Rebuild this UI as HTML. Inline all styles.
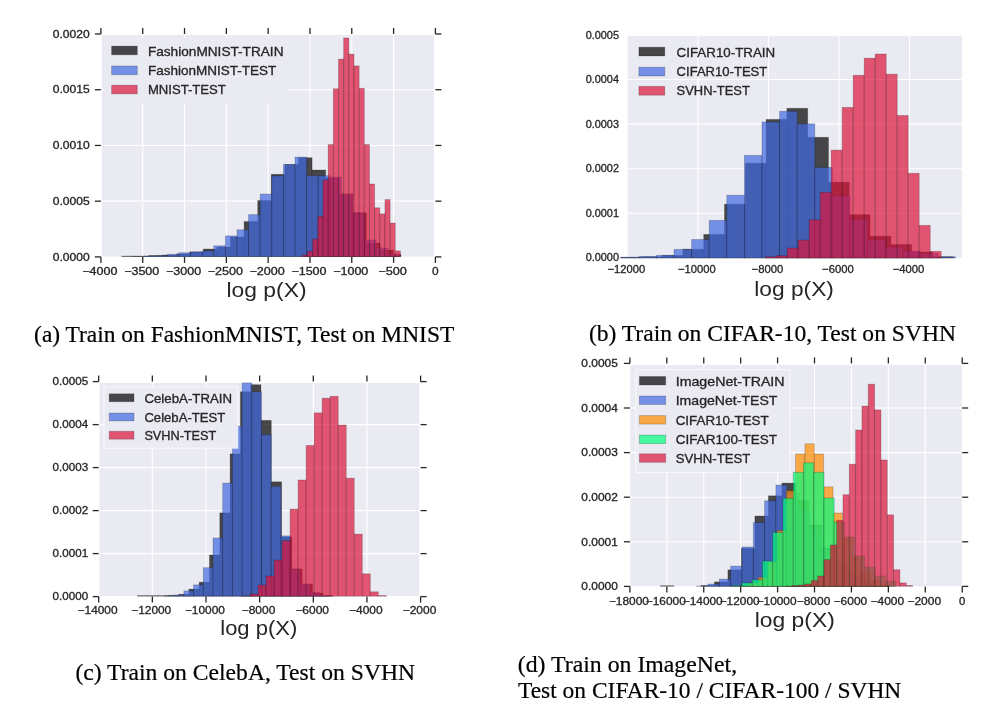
<!DOCTYPE html>
<html><head><meta charset="utf-8"><style>
html,body{margin:0;padding:0;background:#fff;}
body{width:1000px;height:710px;overflow:hidden;}
svg{display:block;font-family:"Liberation Sans", sans-serif;filter:blur(0.35px);}
.t{stroke:#262626;stroke-width:0.3px;}
.s{font-family:"Liberation Serif", serif;}
</style></head><body>
<svg width="1000" height="710" viewBox="0 0 1000 710">
<rect width="1000" height="710" fill="#fff"/>
<rect x="101.70" y="34.90" width="332.30" height="221.70" fill="#EAEAF2"/>
<line x1="142.71" y1="34.90" x2="142.71" y2="256.60" stroke="#fff" stroke-width="1.1"/>
<line x1="184.53" y1="34.90" x2="184.53" y2="256.60" stroke="#fff" stroke-width="1.1"/>
<line x1="226.34" y1="34.90" x2="226.34" y2="256.60" stroke="#fff" stroke-width="1.1"/>
<line x1="268.15" y1="34.90" x2="268.15" y2="256.60" stroke="#fff" stroke-width="1.1"/>
<line x1="309.96" y1="34.90" x2="309.96" y2="256.60" stroke="#fff" stroke-width="1.1"/>
<line x1="351.77" y1="34.90" x2="351.77" y2="256.60" stroke="#fff" stroke-width="1.1"/>
<line x1="393.59" y1="34.90" x2="393.59" y2="256.60" stroke="#fff" stroke-width="1.1"/>
<line x1="101.70" y1="201.17" x2="434.00" y2="201.17" stroke="#fff" stroke-width="1.1"/>
<line x1="101.70" y1="145.45" x2="434.00" y2="145.45" stroke="#fff" stroke-width="1.1"/>
<line x1="101.70" y1="89.72" x2="434.00" y2="89.72" stroke="#fff" stroke-width="1.1"/>
<g fill="#000000" fill-opacity="0.7" stroke="#000" stroke-opacity="0.22" stroke-width="0.9">
<rect x="121.70" y="256.00" width="13.60" height="0.60"/>
<rect x="135.30" y="256.00" width="13.60" height="0.60"/>
<rect x="148.90" y="255.50" width="13.60" height="1.10"/>
<rect x="162.50" y="255.00" width="13.60" height="1.60"/>
<rect x="176.10" y="253.90" width="13.60" height="2.70"/>
<rect x="189.70" y="251.90" width="13.60" height="4.70"/>
<rect x="203.30" y="249.00" width="13.60" height="7.60"/>
<rect x="216.90" y="247.00" width="13.60" height="9.60"/>
<rect x="230.50" y="237.00" width="13.60" height="19.60"/>
<rect x="244.10" y="221.50" width="13.60" height="35.10"/>
<rect x="257.70" y="200.50" width="13.60" height="56.10"/>
<rect x="271.30" y="174.30" width="13.60" height="82.30"/>
<rect x="284.90" y="164.50" width="13.60" height="92.10"/>
<rect x="298.50" y="157.70" width="13.60" height="98.90"/>
<rect x="312.10" y="170.00" width="13.60" height="86.60"/>
<rect x="325.70" y="178.00" width="13.60" height="78.60"/>
<rect x="339.30" y="194.00" width="13.60" height="62.60"/>
<rect x="352.90" y="213.00" width="13.60" height="43.60"/>
<rect x="366.50" y="243.00" width="13.60" height="13.60"/>
<rect x="380.10" y="250.00" width="13.60" height="6.60"/>
<rect x="393.70" y="254.50" width="7.30" height="2.10"/>
</g>
<g fill="#4169E1" fill-opacity="0.7" stroke="#000" stroke-opacity="0.22" stroke-width="0.9">
<rect x="132.60" y="256.50" width="11.60" height="0.10"/>
<rect x="144.20" y="256.00" width="11.60" height="0.60"/>
<rect x="155.80" y="255.60" width="11.60" height="1.00"/>
<rect x="167.40" y="254.30" width="11.60" height="2.30"/>
<rect x="179.00" y="252.70" width="11.60" height="3.90"/>
<rect x="190.60" y="251.90" width="11.60" height="4.70"/>
<rect x="202.20" y="251.00" width="11.60" height="5.60"/>
<rect x="213.80" y="245.80" width="11.60" height="10.80"/>
<rect x="225.40" y="235.90" width="11.60" height="20.70"/>
<rect x="237.00" y="229.80" width="11.60" height="26.80"/>
<rect x="248.60" y="214.60" width="11.60" height="42.00"/>
<rect x="260.20" y="194.10" width="11.60" height="62.50"/>
<rect x="271.80" y="175.90" width="11.60" height="80.70"/>
<rect x="283.40" y="164.40" width="11.60" height="92.20"/>
<rect x="295.00" y="157.10" width="11.60" height="99.50"/>
<rect x="306.60" y="175.70" width="11.60" height="80.90"/>
<rect x="318.20" y="175.70" width="11.60" height="80.90"/>
<rect x="329.80" y="177.00" width="11.60" height="79.60"/>
<rect x="341.40" y="194.00" width="11.60" height="62.60"/>
<rect x="353.00" y="212.50" width="11.60" height="44.10"/>
<rect x="364.60" y="240.00" width="11.60" height="16.60"/>
<rect x="376.20" y="248.00" width="11.60" height="8.60"/>
<rect x="387.80" y="254.00" width="11.60" height="2.60"/>
</g>
<g fill="#DC143C" fill-opacity="0.7" stroke="#000" stroke-opacity="0.22" stroke-width="0.9">
<rect x="302.38" y="255.00" width="5.16" height="1.60"/>
<rect x="307.54" y="251.10" width="5.16" height="5.50"/>
<rect x="312.70" y="239.10" width="5.16" height="17.50"/>
<rect x="317.86" y="216.30" width="5.16" height="40.30"/>
<rect x="323.02" y="180.10" width="5.16" height="76.50"/>
<rect x="328.18" y="144.60" width="5.16" height="112.00"/>
<rect x="333.34" y="88.80" width="5.16" height="167.80"/>
<rect x="338.50" y="59.10" width="5.16" height="197.50"/>
<rect x="343.66" y="38.00" width="5.16" height="218.60"/>
<rect x="348.82" y="54.10" width="5.16" height="202.50"/>
<rect x="353.98" y="65.90" width="5.16" height="190.70"/>
<rect x="359.14" y="88.30" width="5.16" height="168.30"/>
<rect x="364.30" y="144.60" width="5.16" height="112.00"/>
<rect x="369.46" y="184.00" width="5.16" height="72.60"/>
<rect x="374.62" y="207.80" width="5.16" height="48.80"/>
<rect x="379.78" y="213.90" width="5.16" height="42.70"/>
<rect x="384.94" y="199.60" width="5.16" height="57.00"/>
<rect x="390.10" y="223.00" width="5.16" height="33.60"/>
<rect x="395.26" y="250.90" width="5.16" height="5.70"/>
</g>
<rect x="104" y="38" width="184" height="65" fill="#EAEAF2" stroke="none" stroke-width="1" stroke-opacity="1"/>
<rect x="111.6" y="46.10" width="25.70" height="8.7" fill="#000000" fill-opacity="0.7" stroke="#000" stroke-opacity="0.22" stroke-width="0.9"/>
<text x="147.9" y="55.60" font-size="12.4" textLength="135.6" lengthAdjust="spacingAndGlyphs" fill="#262626" class="t">FashionMNIST-TRAIN</text>
<rect x="111.6" y="66.00" width="25.70" height="8.7" fill="#4169E1" fill-opacity="0.7" stroke="#000" stroke-opacity="0.22" stroke-width="0.9"/>
<text x="147.9" y="74.70" font-size="12.4" textLength="128.5" lengthAdjust="spacingAndGlyphs" fill="#262626" class="t">FashionMNIST-TEST</text>
<rect x="111.6" y="85.20" width="25.70" height="8.7" fill="#DC143C" fill-opacity="0.7" stroke="#000" stroke-opacity="0.22" stroke-width="0.9"/>
<text x="147.9" y="93.90" font-size="12.4" textLength="77.9" lengthAdjust="spacingAndGlyphs" fill="#262626" class="t">MNIST-TEST</text>
<g stroke="#262626" stroke-width="1.3">
<line x1="100.90" y1="256.90" x2="100.90" y2="262.90"/>
<line x1="100.90" y1="34.00" x2="100.90" y2="28.00"/>
<line x1="142.71" y1="256.90" x2="142.71" y2="262.90"/>
<line x1="142.71" y1="34.00" x2="142.71" y2="28.00"/>
<line x1="184.53" y1="256.90" x2="184.53" y2="262.90"/>
<line x1="184.53" y1="34.00" x2="184.53" y2="28.00"/>
<line x1="226.34" y1="256.90" x2="226.34" y2="262.90"/>
<line x1="226.34" y1="34.00" x2="226.34" y2="28.00"/>
<line x1="268.15" y1="256.90" x2="268.15" y2="262.90"/>
<line x1="268.15" y1="34.00" x2="268.15" y2="28.00"/>
<line x1="309.96" y1="256.90" x2="309.96" y2="262.90"/>
<line x1="309.96" y1="34.00" x2="309.96" y2="28.00"/>
<line x1="351.77" y1="256.90" x2="351.77" y2="262.90"/>
<line x1="351.77" y1="34.00" x2="351.77" y2="28.00"/>
<line x1="393.59" y1="256.90" x2="393.59" y2="262.90"/>
<line x1="393.59" y1="34.00" x2="393.59" y2="28.00"/>
<line x1="435.40" y1="256.90" x2="435.40" y2="262.90"/>
<line x1="435.40" y1="34.00" x2="435.40" y2="28.00"/>
<line x1="94.90" y1="256.90" x2="100.90" y2="256.90"/>
<line x1="435.40" y1="256.90" x2="441.40" y2="256.90"/>
<line x1="94.90" y1="201.17" x2="100.90" y2="201.17"/>
<line x1="435.40" y1="201.17" x2="441.40" y2="201.17"/>
<line x1="94.90" y1="145.45" x2="100.90" y2="145.45"/>
<line x1="435.40" y1="145.45" x2="441.40" y2="145.45"/>
<line x1="94.90" y1="89.72" x2="100.90" y2="89.72"/>
<line x1="435.40" y1="89.72" x2="441.40" y2="89.72"/>
<line x1="94.90" y1="34.00" x2="100.90" y2="34.00"/>
<line x1="435.40" y1="34.00" x2="441.40" y2="34.00"/>
</g>
<text x="99.90" y="274.6" font-size="10.6" text-anchor="middle" textLength="35.17" lengthAdjust="spacingAndGlyphs" fill="#262626" class="t">−4000</text>
<text x="141.71" y="274.6" font-size="10.6" text-anchor="middle" textLength="35.17" lengthAdjust="spacingAndGlyphs" fill="#262626" class="t">−3500</text>
<text x="183.53" y="274.6" font-size="10.6" text-anchor="middle" textLength="35.17" lengthAdjust="spacingAndGlyphs" fill="#262626" class="t">−3000</text>
<text x="225.34" y="274.6" font-size="10.6" text-anchor="middle" textLength="35.17" lengthAdjust="spacingAndGlyphs" fill="#262626" class="t">−2500</text>
<text x="267.15" y="274.6" font-size="10.6" text-anchor="middle" textLength="35.17" lengthAdjust="spacingAndGlyphs" fill="#262626" class="t">−2000</text>
<text x="308.96" y="274.6" font-size="10.6" text-anchor="middle" textLength="35.17" lengthAdjust="spacingAndGlyphs" fill="#262626" class="t">−1500</text>
<text x="350.77" y="274.6" font-size="10.6" text-anchor="middle" textLength="35.17" lengthAdjust="spacingAndGlyphs" fill="#262626" class="t">−1000</text>
<text x="392.59" y="274.6" font-size="10.6" text-anchor="middle" textLength="28.56" lengthAdjust="spacingAndGlyphs" fill="#262626" class="t">−500</text>
<text x="435.40" y="274.6" font-size="10.6" text-anchor="middle" textLength="6.61" lengthAdjust="spacingAndGlyphs" fill="#262626" class="t">0</text>
<text x="89.7" y="260.50" font-size="10.6" text-anchor="end" textLength="36.9" lengthAdjust="spacingAndGlyphs" fill="#262626" class="t">0.0000</text>
<text x="89.7" y="204.77" font-size="10.6" text-anchor="end" textLength="36.9" lengthAdjust="spacingAndGlyphs" fill="#262626" class="t">0.0005</text>
<text x="89.7" y="149.05" font-size="10.6" text-anchor="end" textLength="36.9" lengthAdjust="spacingAndGlyphs" fill="#262626" class="t">0.0010</text>
<text x="89.7" y="93.32" font-size="10.6" text-anchor="end" textLength="36.9" lengthAdjust="spacingAndGlyphs" fill="#262626" class="t">0.0015</text>
<text x="89.7" y="37.60" font-size="10.6" text-anchor="end" textLength="36.9" lengthAdjust="spacingAndGlyphs" fill="#262626" class="t">0.0020</text>
<text x="266.5" y="296.5" font-size="20.2" text-anchor="middle" textLength="80" lengthAdjust="spacingAndGlyphs" fill="#262626">log p(X)</text>
<rect x="627.60" y="35.80" width="334.30" height="222.20" fill="#EAEAF2"/>
<line x1="697.86" y1="35.80" x2="697.86" y2="258.00" stroke="#fff" stroke-width="1.1"/>
<line x1="768.42" y1="35.80" x2="768.42" y2="258.00" stroke="#fff" stroke-width="1.1"/>
<line x1="838.98" y1="35.80" x2="838.98" y2="258.00" stroke="#fff" stroke-width="1.1"/>
<line x1="909.54" y1="35.80" x2="909.54" y2="258.00" stroke="#fff" stroke-width="1.1"/>
<line x1="627.60" y1="213.24" x2="961.90" y2="213.24" stroke="#fff" stroke-width="1.1"/>
<line x1="627.60" y1="168.68" x2="961.90" y2="168.68" stroke="#fff" stroke-width="1.1"/>
<line x1="627.60" y1="124.12" x2="961.90" y2="124.12" stroke="#fff" stroke-width="1.1"/>
<line x1="627.60" y1="79.56" x2="961.90" y2="79.56" stroke="#fff" stroke-width="1.1"/>
<g fill="#000000" fill-opacity="0.7" stroke="#000" stroke-opacity="0.22" stroke-width="0.9">
<rect x="620.50" y="257.30" width="20.80" height="0.70"/>
<rect x="641.30" y="256.80" width="20.80" height="1.20"/>
<rect x="662.10" y="255.40" width="20.80" height="2.60"/>
<rect x="682.90" y="249.20" width="20.80" height="8.80"/>
<rect x="703.70" y="234.40" width="20.80" height="23.60"/>
<rect x="724.50" y="204.20" width="20.80" height="53.80"/>
<rect x="745.30" y="163.20" width="20.80" height="94.80"/>
<rect x="766.10" y="119.40" width="20.80" height="138.60"/>
<rect x="786.90" y="108.30" width="20.80" height="149.70"/>
<rect x="807.70" y="137.30" width="20.80" height="120.70"/>
<rect x="828.50" y="182.20" width="20.80" height="75.80"/>
<rect x="849.30" y="214.60" width="20.80" height="43.40"/>
<rect x="870.10" y="236.20" width="20.80" height="21.80"/>
<rect x="890.90" y="244.50" width="20.80" height="13.50"/>
<rect x="911.70" y="252.00" width="20.80" height="6.00"/>
<rect x="932.50" y="256.70" width="20.80" height="1.30"/>
</g>
<g fill="#4169E1" fill-opacity="0.7" stroke="#000" stroke-opacity="0.22" stroke-width="0.9">
<rect x="621.20" y="257.30" width="17.60" height="0.70"/>
<rect x="638.80" y="256.50" width="17.60" height="1.50"/>
<rect x="656.40" y="255.30" width="17.60" height="2.70"/>
<rect x="674.00" y="249.40" width="17.60" height="8.60"/>
<rect x="691.60" y="239.50" width="17.60" height="18.50"/>
<rect x="709.20" y="220.40" width="17.60" height="37.60"/>
<rect x="726.80" y="195.20" width="17.60" height="62.80"/>
<rect x="744.40" y="155.40" width="17.60" height="102.60"/>
<rect x="762.00" y="122.00" width="17.60" height="136.00"/>
<rect x="779.60" y="111.30" width="17.60" height="146.70"/>
<rect x="797.20" y="123.90" width="17.60" height="134.10"/>
<rect x="814.80" y="167.50" width="17.60" height="90.50"/>
<rect x="832.40" y="195.90" width="17.60" height="62.10"/>
<rect x="850.00" y="219.70" width="17.60" height="38.30"/>
<rect x="867.60" y="240.00" width="17.60" height="18.00"/>
<rect x="885.20" y="247.20" width="17.60" height="10.80"/>
<rect x="902.80" y="251.00" width="17.60" height="7.00"/>
<rect x="920.40" y="253.50" width="17.60" height="4.50"/>
<rect x="938.00" y="256.90" width="17.60" height="1.10"/>
</g>
<g fill="#DC143C" fill-opacity="0.7" stroke="#000" stroke-opacity="0.22" stroke-width="0.9">
<rect x="765.20" y="256.80" width="11.00" height="1.20"/>
<rect x="776.20" y="255.70" width="11.00" height="2.30"/>
<rect x="787.20" y="248.10" width="11.00" height="9.90"/>
<rect x="798.20" y="240.10" width="11.00" height="17.90"/>
<rect x="809.20" y="219.80" width="11.00" height="38.20"/>
<rect x="820.20" y="192.30" width="11.00" height="65.70"/>
<rect x="831.20" y="150.10" width="11.00" height="107.90"/>
<rect x="842.20" y="107.40" width="11.00" height="150.60"/>
<rect x="853.20" y="75.30" width="11.00" height="182.70"/>
<rect x="864.20" y="58.20" width="11.00" height="199.80"/>
<rect x="875.20" y="54.00" width="11.00" height="204.00"/>
<rect x="886.20" y="74.20" width="11.00" height="183.80"/>
<rect x="897.20" y="115.50" width="11.00" height="142.50"/>
<rect x="908.20" y="173.30" width="11.00" height="84.70"/>
<rect x="919.20" y="225.40" width="11.00" height="32.60"/>
<rect x="930.20" y="251.30" width="11.00" height="6.70"/>
</g>
<rect x="638.9" y="47.20" width="25.90" height="8.8" fill="#000000" fill-opacity="0.7" stroke="#000" stroke-opacity="0.22" stroke-width="0.9"/>
<text x="676.6" y="57.10" font-size="12.2" textLength="98.6" lengthAdjust="spacingAndGlyphs" fill="#262626" class="t">CIFAR10-TRAIN</text>
<rect x="638.9" y="67.20" width="25.90" height="8.8" fill="#4169E1" fill-opacity="0.7" stroke="#000" stroke-opacity="0.22" stroke-width="0.9"/>
<text x="676.6" y="75.80" font-size="12.2" textLength="90.7" lengthAdjust="spacingAndGlyphs" fill="#262626" class="t">CIFAR10-TEST</text>
<rect x="638.9" y="86.40" width="25.90" height="8.8" fill="#DC143C" fill-opacity="0.7" stroke="#000" stroke-opacity="0.22" stroke-width="0.9"/>
<text x="676.6" y="95.00" font-size="12.2" textLength="73.2" lengthAdjust="spacingAndGlyphs" fill="#262626" class="t">SVHN-TEST</text>
<text x="626.30" y="273.2" font-size="10.9" text-anchor="middle" textLength="37.69" lengthAdjust="spacingAndGlyphs" fill="#262626" class="t">−12000</text>
<text x="696.86" y="273.2" font-size="10.9" text-anchor="middle" textLength="37.69" lengthAdjust="spacingAndGlyphs" fill="#262626" class="t">−10000</text>
<text x="767.42" y="273.2" font-size="10.9" text-anchor="middle" textLength="31.72" lengthAdjust="spacingAndGlyphs" fill="#262626" class="t">−8000</text>
<text x="837.98" y="273.2" font-size="10.9" text-anchor="middle" textLength="31.72" lengthAdjust="spacingAndGlyphs" fill="#262626" class="t">−6000</text>
<text x="908.54" y="273.2" font-size="10.9" text-anchor="middle" textLength="31.72" lengthAdjust="spacingAndGlyphs" fill="#262626" class="t">−4000</text>
<text x="619.0" y="261.40" font-size="10.6" text-anchor="end" textLength="33.3" lengthAdjust="spacingAndGlyphs" fill="#262626" class="t">0.0000</text>
<text x="619.0" y="216.84" font-size="10.6" text-anchor="end" textLength="33.3" lengthAdjust="spacingAndGlyphs" fill="#262626" class="t">0.0001</text>
<text x="619.0" y="172.28" font-size="10.6" text-anchor="end" textLength="33.3" lengthAdjust="spacingAndGlyphs" fill="#262626" class="t">0.0002</text>
<text x="619.0" y="127.72" font-size="10.6" text-anchor="end" textLength="33.3" lengthAdjust="spacingAndGlyphs" fill="#262626" class="t">0.0003</text>
<text x="619.0" y="83.16" font-size="10.6" text-anchor="end" textLength="33.3" lengthAdjust="spacingAndGlyphs" fill="#262626" class="t">0.0004</text>
<text x="619.0" y="38.60" font-size="10.6" text-anchor="end" textLength="33.3" lengthAdjust="spacingAndGlyphs" fill="#262626" class="t">0.0005</text>
<text x="794.1" y="295.5" font-size="20.2" text-anchor="middle" textLength="79.6" lengthAdjust="spacingAndGlyphs" fill="#262626">log p(X)</text>
<rect x="99.50" y="383.00" width="319.90" height="213.20" fill="#EAEAF2"/>
<line x1="152.35" y1="383.00" x2="152.35" y2="596.20" stroke="#fff" stroke-width="1.1"/>
<line x1="206.00" y1="383.00" x2="206.00" y2="596.20" stroke="#fff" stroke-width="1.1"/>
<line x1="259.65" y1="383.00" x2="259.65" y2="596.20" stroke="#fff" stroke-width="1.1"/>
<line x1="313.30" y1="383.00" x2="313.30" y2="596.20" stroke="#fff" stroke-width="1.1"/>
<line x1="366.95" y1="383.00" x2="366.95" y2="596.20" stroke="#fff" stroke-width="1.1"/>
<line x1="99.50" y1="553.60" x2="419.40" y2="553.60" stroke="#fff" stroke-width="1.1"/>
<line x1="99.50" y1="510.60" x2="419.40" y2="510.60" stroke="#fff" stroke-width="1.1"/>
<line x1="99.50" y1="467.60" x2="419.40" y2="467.60" stroke="#fff" stroke-width="1.1"/>
<line x1="99.50" y1="424.60" x2="419.40" y2="424.60" stroke="#fff" stroke-width="1.1"/>
<g fill="#000000" fill-opacity="0.7" stroke="#000" stroke-opacity="0.22" stroke-width="0.9">
<rect x="137.40" y="595.60" width="10.30" height="0.60"/>
<rect x="147.70" y="595.60" width="10.30" height="0.60"/>
<rect x="158.00" y="595.60" width="10.30" height="0.60"/>
<rect x="168.30" y="595.30" width="10.30" height="0.90"/>
<rect x="178.60" y="594.30" width="10.30" height="1.90"/>
<rect x="188.90" y="589.10" width="10.30" height="7.10"/>
<rect x="199.20" y="582.20" width="10.30" height="14.00"/>
<rect x="209.50" y="555.00" width="10.30" height="41.20"/>
<rect x="219.80" y="512.90" width="10.30" height="83.30"/>
<rect x="230.10" y="453.90" width="10.30" height="142.30"/>
<rect x="240.40" y="391.80" width="10.30" height="204.40"/>
<rect x="250.70" y="384.70" width="10.30" height="211.50"/>
<rect x="261.00" y="420.40" width="10.30" height="175.80"/>
<rect x="271.30" y="481.80" width="10.30" height="114.40"/>
<rect x="281.60" y="537.00" width="10.30" height="59.20"/>
<rect x="291.90" y="569.00" width="10.30" height="27.20"/>
<rect x="302.20" y="584.00" width="10.30" height="12.20"/>
<rect x="312.50" y="593.00" width="10.30" height="3.20"/>
<rect x="322.80" y="595.50" width="10.30" height="0.70"/>
</g>
<g fill="#4169E1" fill-opacity="0.7" stroke="#000" stroke-opacity="0.22" stroke-width="0.9">
<rect x="164.50" y="595.80" width="9.70" height="0.40"/>
<rect x="174.20" y="595.00" width="9.70" height="1.20"/>
<rect x="183.90" y="590.90" width="9.70" height="5.30"/>
<rect x="193.60" y="584.90" width="9.70" height="11.30"/>
<rect x="203.30" y="567.70" width="9.70" height="28.50"/>
<rect x="213.00" y="538.00" width="9.70" height="58.20"/>
<rect x="222.70" y="483.10" width="9.70" height="113.10"/>
<rect x="232.40" y="426.00" width="9.70" height="170.20"/>
<rect x="242.10" y="382.90" width="9.70" height="213.30"/>
<rect x="251.80" y="391.80" width="9.70" height="204.40"/>
<rect x="261.50" y="434.70" width="9.70" height="161.50"/>
<rect x="271.20" y="486.30" width="9.70" height="109.90"/>
<rect x="280.90" y="535.90" width="9.70" height="60.30"/>
<rect x="290.60" y="569.00" width="9.70" height="27.20"/>
<rect x="300.30" y="584.00" width="9.70" height="12.20"/>
<rect x="310.00" y="592.50" width="9.70" height="3.70"/>
<rect x="319.70" y="595.50" width="9.70" height="0.70"/>
</g>
<g fill="#DC143C" fill-opacity="0.7" stroke="#000" stroke-opacity="0.22" stroke-width="0.9">
<rect x="241.96" y="596.00" width="8.02" height="0.20"/>
<rect x="249.98" y="594.00" width="8.02" height="2.20"/>
<rect x="258.00" y="585.00" width="8.02" height="11.20"/>
<rect x="266.02" y="576.00" width="8.02" height="20.20"/>
<rect x="274.04" y="560.10" width="8.02" height="36.10"/>
<rect x="282.06" y="540.70" width="8.02" height="55.50"/>
<rect x="290.08" y="509.10" width="8.02" height="87.10"/>
<rect x="298.10" y="480.00" width="8.02" height="116.20"/>
<rect x="306.12" y="445.50" width="8.02" height="150.70"/>
<rect x="314.14" y="412.90" width="8.02" height="183.30"/>
<rect x="322.16" y="398.20" width="8.02" height="198.00"/>
<rect x="330.18" y="396.30" width="8.02" height="199.90"/>
<rect x="338.20" y="425.00" width="8.02" height="171.20"/>
<rect x="346.22" y="478.20" width="8.02" height="118.00"/>
<rect x="354.24" y="534.10" width="8.02" height="62.10"/>
<rect x="362.26" y="573.80" width="8.02" height="22.40"/>
<rect x="370.28" y="591.80" width="8.02" height="4.40"/>
<rect x="378.30" y="595.50" width="8.02" height="0.70"/>
</g>
<rect x="104" y="386.8" width="133.8" height="61.39999999999998" fill="#EAEAF2" stroke="#ffffff" stroke-width="1.0" stroke-opacity="0.7"/>
<rect x="109.2" y="393.80" width="24.80" height="7.9" fill="#000000" fill-opacity="0.7" stroke="#000" stroke-opacity="0.22" stroke-width="0.9"/>
<text x="144.4" y="402.80" font-size="11.9" textLength="87.7" lengthAdjust="spacingAndGlyphs" fill="#262626" class="t">CelebA-TRAIN</text>
<rect x="109.2" y="413.00" width="24.80" height="7.9" fill="#4169E1" fill-opacity="0.7" stroke="#000" stroke-opacity="0.22" stroke-width="0.9"/>
<text x="144.4" y="421.90" font-size="11.9" textLength="80.9" lengthAdjust="spacingAndGlyphs" fill="#262626" class="t">CelebA-TEST</text>
<rect x="109.2" y="431.30" width="24.80" height="7.9" fill="#DC143C" fill-opacity="0.7" stroke="#000" stroke-opacity="0.22" stroke-width="0.9"/>
<text x="144.4" y="440.30" font-size="11.9" textLength="71.9" lengthAdjust="spacingAndGlyphs" fill="#262626" class="t">SVHN-TEST</text>
<g stroke="#262626" stroke-width="1.3">
<line x1="98.70" y1="596.60" x2="98.70" y2="602.60"/>
<line x1="98.70" y1="381.60" x2="98.70" y2="375.60"/>
<line x1="152.35" y1="596.60" x2="152.35" y2="602.60"/>
<line x1="152.35" y1="381.60" x2="152.35" y2="375.60"/>
<line x1="206.00" y1="596.60" x2="206.00" y2="602.60"/>
<line x1="206.00" y1="381.60" x2="206.00" y2="375.60"/>
<line x1="259.65" y1="596.60" x2="259.65" y2="602.60"/>
<line x1="259.65" y1="381.60" x2="259.65" y2="375.60"/>
<line x1="313.30" y1="596.60" x2="313.30" y2="602.60"/>
<line x1="313.30" y1="381.60" x2="313.30" y2="375.60"/>
<line x1="366.95" y1="596.60" x2="366.95" y2="602.60"/>
<line x1="366.95" y1="381.60" x2="366.95" y2="375.60"/>
<line x1="420.60" y1="596.60" x2="420.60" y2="602.60"/>
<line x1="420.60" y1="381.60" x2="420.60" y2="375.60"/>
<line x1="92.70" y1="596.60" x2="98.70" y2="596.60"/>
<line x1="420.60" y1="596.60" x2="426.60" y2="596.60"/>
<line x1="92.70" y1="553.60" x2="98.70" y2="553.60"/>
<line x1="420.60" y1="553.60" x2="426.60" y2="553.60"/>
<line x1="92.70" y1="510.60" x2="98.70" y2="510.60"/>
<line x1="420.60" y1="510.60" x2="426.60" y2="510.60"/>
<line x1="92.70" y1="467.60" x2="98.70" y2="467.60"/>
<line x1="420.60" y1="467.60" x2="426.60" y2="467.60"/>
<line x1="92.70" y1="424.60" x2="98.70" y2="424.60"/>
<line x1="420.60" y1="424.60" x2="426.60" y2="424.60"/>
<line x1="92.70" y1="381.60" x2="98.70" y2="381.60"/>
<line x1="420.60" y1="381.60" x2="426.60" y2="381.60"/>
</g>
<text x="97.60" y="613.9" font-size="10.7" text-anchor="middle" textLength="39.98" lengthAdjust="spacingAndGlyphs" fill="#262626" class="t">−14000</text>
<text x="151.25" y="613.9" font-size="10.7" text-anchor="middle" textLength="39.98" lengthAdjust="spacingAndGlyphs" fill="#262626" class="t">−12000</text>
<text x="204.90" y="613.9" font-size="10.7" text-anchor="middle" textLength="39.98" lengthAdjust="spacingAndGlyphs" fill="#262626" class="t">−10000</text>
<text x="258.55" y="613.9" font-size="10.7" text-anchor="middle" textLength="33.65" lengthAdjust="spacingAndGlyphs" fill="#262626" class="t">−8000</text>
<text x="312.20" y="613.9" font-size="10.7" text-anchor="middle" textLength="33.65" lengthAdjust="spacingAndGlyphs" fill="#262626" class="t">−6000</text>
<text x="365.85" y="613.9" font-size="10.7" text-anchor="middle" textLength="33.65" lengthAdjust="spacingAndGlyphs" fill="#262626" class="t">−4000</text>
<text x="419.50" y="613.9" font-size="10.7" text-anchor="middle" textLength="33.65" lengthAdjust="spacingAndGlyphs" fill="#262626" class="t">−2000</text>
<text x="88.1" y="600.30" font-size="10.6" text-anchor="end" textLength="35.5" lengthAdjust="spacingAndGlyphs" fill="#262626" class="t">0.0000</text>
<text x="88.1" y="557.30" font-size="10.6" text-anchor="end" textLength="35.5" lengthAdjust="spacingAndGlyphs" fill="#262626" class="t">0.0001</text>
<text x="88.1" y="514.30" font-size="10.6" text-anchor="end" textLength="35.5" lengthAdjust="spacingAndGlyphs" fill="#262626" class="t">0.0002</text>
<text x="88.1" y="471.30" font-size="10.6" text-anchor="end" textLength="35.5" lengthAdjust="spacingAndGlyphs" fill="#262626" class="t">0.0003</text>
<text x="88.1" y="428.30" font-size="10.6" text-anchor="end" textLength="35.5" lengthAdjust="spacingAndGlyphs" fill="#262626" class="t">0.0004</text>
<text x="88.1" y="385.30" font-size="10.6" text-anchor="end" textLength="35.5" lengthAdjust="spacingAndGlyphs" fill="#262626" class="t">0.0005</text>
<text x="258.75" y="634.8" font-size="19.6" text-anchor="middle" textLength="77" lengthAdjust="spacingAndGlyphs" fill="#262626">log p(X)</text>
<rect x="630.30" y="365.00" width="331.50" height="221.30" fill="#EAEAF2"/>
<line x1="666.82" y1="365.00" x2="666.82" y2="586.30" stroke="#fff" stroke-width="1.1"/>
<line x1="703.74" y1="365.00" x2="703.74" y2="586.30" stroke="#fff" stroke-width="1.1"/>
<line x1="740.67" y1="365.00" x2="740.67" y2="586.30" stroke="#fff" stroke-width="1.1"/>
<line x1="777.59" y1="365.00" x2="777.59" y2="586.30" stroke="#fff" stroke-width="1.1"/>
<line x1="814.51" y1="365.00" x2="814.51" y2="586.30" stroke="#fff" stroke-width="1.1"/>
<line x1="851.43" y1="365.00" x2="851.43" y2="586.30" stroke="#fff" stroke-width="1.1"/>
<line x1="888.36" y1="365.00" x2="888.36" y2="586.30" stroke="#fff" stroke-width="1.1"/>
<line x1="925.28" y1="365.00" x2="925.28" y2="586.30" stroke="#fff" stroke-width="1.1"/>
<line x1="630.30" y1="541.80" x2="961.80" y2="541.80" stroke="#fff" stroke-width="1.1"/>
<line x1="630.30" y1="497.20" x2="961.80" y2="497.20" stroke="#fff" stroke-width="1.1"/>
<line x1="630.30" y1="452.60" x2="961.80" y2="452.60" stroke="#fff" stroke-width="1.1"/>
<line x1="630.30" y1="408.00" x2="961.80" y2="408.00" stroke="#fff" stroke-width="1.1"/>
<g fill="#000000" fill-opacity="0.7" stroke="#000" stroke-opacity="0.22" stroke-width="0.9">
<rect x="660.40" y="585.70" width="13.50" height="0.60"/>
<rect x="700.90" y="585.50" width="13.50" height="0.80"/>
<rect x="714.40" y="581.90" width="13.50" height="4.40"/>
<rect x="727.90" y="569.90" width="13.50" height="16.40"/>
<rect x="741.40" y="548.50" width="13.50" height="37.80"/>
<rect x="754.90" y="516.00" width="13.50" height="70.30"/>
<rect x="768.40" y="495.80" width="13.50" height="90.50"/>
<rect x="781.90" y="483.10" width="13.50" height="103.20"/>
<rect x="795.40" y="500.00" width="13.50" height="86.30"/>
<rect x="808.90" y="525.00" width="13.50" height="61.30"/>
<rect x="822.40" y="548.00" width="13.50" height="38.30"/>
<rect x="835.90" y="565.00" width="13.50" height="21.30"/>
<rect x="849.40" y="576.00" width="13.50" height="10.30"/>
<rect x="862.90" y="582.00" width="13.50" height="4.30"/>
<rect x="876.40" y="585.00" width="13.50" height="1.30"/>
</g>
<g fill="#4169E1" fill-opacity="0.7" stroke="#000" stroke-opacity="0.22" stroke-width="0.9">
<rect x="696.80" y="586.00" width="11.30" height="0.30"/>
<rect x="708.10" y="584.00" width="11.30" height="2.30"/>
<rect x="719.40" y="579.10" width="11.30" height="7.20"/>
<rect x="730.70" y="566.10" width="11.30" height="20.20"/>
<rect x="742.00" y="547.00" width="11.30" height="39.30"/>
<rect x="753.30" y="522.50" width="11.30" height="63.80"/>
<rect x="764.60" y="500.80" width="11.30" height="85.50"/>
<rect x="775.90" y="485.00" width="11.30" height="101.30"/>
<rect x="787.20" y="493.00" width="11.30" height="93.30"/>
<rect x="798.50" y="510.00" width="11.30" height="76.30"/>
<rect x="809.80" y="530.00" width="11.30" height="56.30"/>
<rect x="821.10" y="548.00" width="11.30" height="38.30"/>
<rect x="832.40" y="562.00" width="11.30" height="24.30"/>
<rect x="843.70" y="572.00" width="11.30" height="14.30"/>
<rect x="855.00" y="579.00" width="11.30" height="7.30"/>
<rect x="866.30" y="583.00" width="11.30" height="3.30"/>
<rect x="877.60" y="585.50" width="11.30" height="0.80"/>
</g>
<g fill="#FF8C00" fill-opacity="0.7" stroke="#000" stroke-opacity="0.22" stroke-width="0.9">
<rect x="739.50" y="585.50" width="9.35" height="0.80"/>
<rect x="748.85" y="583.00" width="9.35" height="3.30"/>
<rect x="758.20" y="577.30" width="9.35" height="9.00"/>
<rect x="767.55" y="562.00" width="9.35" height="24.30"/>
<rect x="776.90" y="530.50" width="9.35" height="55.80"/>
<rect x="786.25" y="490.70" width="9.35" height="95.60"/>
<rect x="795.60" y="454.00" width="9.35" height="132.30"/>
<rect x="804.95" y="443.80" width="9.35" height="142.50"/>
<rect x="814.30" y="454.00" width="9.35" height="132.30"/>
<rect x="823.65" y="486.90" width="9.35" height="99.40"/>
<rect x="833.00" y="513.00" width="9.35" height="73.30"/>
<rect x="842.35" y="538.00" width="9.35" height="48.30"/>
<rect x="851.70" y="558.00" width="9.35" height="28.30"/>
<rect x="861.05" y="572.00" width="9.35" height="14.30"/>
<rect x="870.40" y="580.00" width="9.35" height="6.30"/>
<rect x="879.75" y="584.00" width="9.35" height="2.30"/>
</g>
<g fill="#00FF7F" fill-opacity="0.7" stroke="#000" stroke-opacity="0.22" stroke-width="0.9">
<rect x="731.80" y="585.50" width="10.24" height="0.80"/>
<rect x="742.04" y="583.00" width="10.24" height="3.30"/>
<rect x="752.28" y="579.80" width="10.24" height="6.50"/>
<rect x="762.52" y="561.00" width="10.24" height="25.30"/>
<rect x="772.76" y="532.50" width="10.24" height="53.80"/>
<rect x="783.00" y="498.30" width="10.24" height="88.00"/>
<rect x="793.24" y="472.30" width="10.24" height="114.00"/>
<rect x="803.48" y="462.80" width="10.24" height="123.50"/>
<rect x="813.72" y="472.30" width="10.24" height="114.00"/>
<rect x="823.96" y="497.90" width="10.24" height="88.40"/>
<rect x="834.20" y="522.00" width="10.24" height="64.30"/>
<rect x="844.44" y="537.00" width="10.24" height="49.30"/>
<rect x="854.68" y="556.00" width="10.24" height="30.30"/>
<rect x="864.92" y="567.00" width="10.24" height="19.30"/>
<rect x="875.16" y="576.00" width="10.24" height="10.30"/>
<rect x="885.40" y="581.00" width="10.24" height="5.30"/>
</g>
<g fill="#DC143C" fill-opacity="0.7" stroke="#000" stroke-opacity="0.22" stroke-width="0.9">
<rect x="786.00" y="586.00" width="6.33" height="0.30"/>
<rect x="792.33" y="585.50" width="6.33" height="0.80"/>
<rect x="798.66" y="585.00" width="6.33" height="1.30"/>
<rect x="804.99" y="584.00" width="6.33" height="2.30"/>
<rect x="811.32" y="580.50" width="6.33" height="5.80"/>
<rect x="817.65" y="576.00" width="6.33" height="10.30"/>
<rect x="823.98" y="559.60" width="6.33" height="26.70"/>
<rect x="830.31" y="545.00" width="6.33" height="41.30"/>
<rect x="836.64" y="520.30" width="6.33" height="66.00"/>
<rect x="842.97" y="494.70" width="6.33" height="91.60"/>
<rect x="849.30" y="464.20" width="6.33" height="122.10"/>
<rect x="855.63" y="430.00" width="6.33" height="156.30"/>
<rect x="861.96" y="406.10" width="6.33" height="180.20"/>
<rect x="868.29" y="384.20" width="6.33" height="202.10"/>
<rect x="874.62" y="409.90" width="6.33" height="176.40"/>
<rect x="880.95" y="460.00" width="6.33" height="126.30"/>
<rect x="887.28" y="514.80" width="6.33" height="71.50"/>
<rect x="893.61" y="569.70" width="6.33" height="16.60"/>
<rect x="899.94" y="582.90" width="6.33" height="3.40"/>
<rect x="906.27" y="585.50" width="6.33" height="0.80"/>
</g>
<rect x="636" y="369.7" width="153.89999999999998" height="102.80000000000001" fill="#EAEAF2" stroke="#ffffff" stroke-width="1.0" stroke-opacity="0.7"/>
<rect x="639.4" y="376.50" width="26.30" height="8.5" fill="#000000" fill-opacity="0.7" stroke="#000" stroke-opacity="0.22" stroke-width="0.9"/>
<text x="675.7" y="385.80" font-size="12.4" textLength="108.9" lengthAdjust="spacingAndGlyphs" fill="#262626" class="t">ImageNet-TRAIN</text>
<rect x="639.4" y="396.00" width="26.30" height="8.5" fill="#4169E1" fill-opacity="0.7" stroke="#000" stroke-opacity="0.22" stroke-width="0.9"/>
<text x="675.7" y="405.30" font-size="12.4" textLength="101.8" lengthAdjust="spacingAndGlyphs" fill="#262626" class="t">ImageNet-TEST</text>
<rect x="639.4" y="415.60" width="26.30" height="8.5" fill="#FF8C00" fill-opacity="0.7" stroke="#000" stroke-opacity="0.22" stroke-width="0.9"/>
<text x="675.7" y="424.60" font-size="12.4" textLength="93.0" lengthAdjust="spacingAndGlyphs" fill="#262626" class="t">CIFAR10-TEST</text>
<rect x="639.4" y="435.10" width="26.30" height="8.5" fill="#00FF7F" fill-opacity="0.7" stroke="#000" stroke-opacity="0.22" stroke-width="0.9"/>
<text x="675.7" y="444.30" font-size="12.4" textLength="101.3" lengthAdjust="spacingAndGlyphs" fill="#262626" class="t">CIFAR100-TEST</text>
<rect x="639.4" y="453.80" width="26.30" height="8.5" fill="#DC143C" fill-opacity="0.7" stroke="#000" stroke-opacity="0.22" stroke-width="0.9"/>
<text x="675.7" y="463.20" font-size="12.4" textLength="74.6" lengthAdjust="spacingAndGlyphs" fill="#262626" class="t">SVHN-TEST</text>
<g stroke="#262626" stroke-width="1.3">
<line x1="629.90" y1="586.40" x2="629.90" y2="592.40"/>
<line x1="629.90" y1="363.40" x2="629.90" y2="357.40"/>
<line x1="666.82" y1="586.40" x2="666.82" y2="592.40"/>
<line x1="666.82" y1="363.40" x2="666.82" y2="357.40"/>
<line x1="703.74" y1="586.40" x2="703.74" y2="592.40"/>
<line x1="703.74" y1="363.40" x2="703.74" y2="357.40"/>
<line x1="740.67" y1="586.40" x2="740.67" y2="592.40"/>
<line x1="740.67" y1="363.40" x2="740.67" y2="357.40"/>
<line x1="777.59" y1="586.40" x2="777.59" y2="592.40"/>
<line x1="777.59" y1="363.40" x2="777.59" y2="357.40"/>
<line x1="814.51" y1="586.40" x2="814.51" y2="592.40"/>
<line x1="814.51" y1="363.40" x2="814.51" y2="357.40"/>
<line x1="851.43" y1="586.40" x2="851.43" y2="592.40"/>
<line x1="851.43" y1="363.40" x2="851.43" y2="357.40"/>
<line x1="888.36" y1="586.40" x2="888.36" y2="592.40"/>
<line x1="888.36" y1="363.40" x2="888.36" y2="357.40"/>
<line x1="925.28" y1="586.40" x2="925.28" y2="592.40"/>
<line x1="925.28" y1="363.40" x2="925.28" y2="357.40"/>
<line x1="962.20" y1="586.40" x2="962.20" y2="592.40"/>
<line x1="962.20" y1="363.40" x2="962.20" y2="357.40"/>
<line x1="623.90" y1="586.40" x2="629.90" y2="586.40"/>
<line x1="962.20" y1="586.40" x2="968.20" y2="586.40"/>
<line x1="623.90" y1="541.80" x2="629.90" y2="541.80"/>
<line x1="962.20" y1="541.80" x2="968.20" y2="541.80"/>
<line x1="623.90" y1="497.20" x2="629.90" y2="497.20"/>
<line x1="962.20" y1="497.20" x2="968.20" y2="497.20"/>
<line x1="623.90" y1="452.60" x2="629.90" y2="452.60"/>
<line x1="962.20" y1="452.60" x2="968.20" y2="452.60"/>
<line x1="623.90" y1="408.00" x2="629.90" y2="408.00"/>
<line x1="962.20" y1="408.00" x2="968.20" y2="408.00"/>
<line x1="623.90" y1="363.40" x2="629.90" y2="363.40"/>
<line x1="962.20" y1="363.40" x2="968.20" y2="363.40"/>
</g>
<text x="628.90" y="604.9" font-size="10.7" text-anchor="middle" textLength="39.98" lengthAdjust="spacingAndGlyphs" fill="#262626" class="t">−18000</text>
<text x="665.82" y="604.9" font-size="10.7" text-anchor="middle" textLength="39.98" lengthAdjust="spacingAndGlyphs" fill="#262626" class="t">−16000</text>
<text x="702.74" y="604.9" font-size="10.7" text-anchor="middle" textLength="39.98" lengthAdjust="spacingAndGlyphs" fill="#262626" class="t">−14000</text>
<text x="739.67" y="604.9" font-size="10.7" text-anchor="middle" textLength="39.98" lengthAdjust="spacingAndGlyphs" fill="#262626" class="t">−12000</text>
<text x="776.59" y="604.9" font-size="10.7" text-anchor="middle" textLength="39.98" lengthAdjust="spacingAndGlyphs" fill="#262626" class="t">−10000</text>
<text x="813.51" y="604.9" font-size="10.7" text-anchor="middle" textLength="33.65" lengthAdjust="spacingAndGlyphs" fill="#262626" class="t">−8000</text>
<text x="850.43" y="604.9" font-size="10.7" text-anchor="middle" textLength="33.65" lengthAdjust="spacingAndGlyphs" fill="#262626" class="t">−6000</text>
<text x="887.36" y="604.9" font-size="10.7" text-anchor="middle" textLength="33.65" lengthAdjust="spacingAndGlyphs" fill="#262626" class="t">−4000</text>
<text x="924.28" y="604.9" font-size="10.7" text-anchor="middle" textLength="33.65" lengthAdjust="spacingAndGlyphs" fill="#262626" class="t">−2000</text>
<text x="962.20" y="604.9" font-size="10.7" text-anchor="middle" textLength="6.33" lengthAdjust="spacingAndGlyphs" fill="#262626" class="t">0</text>
<text x="617.8" y="590.10" font-size="10.6" text-anchor="end" textLength="36.5" lengthAdjust="spacingAndGlyphs" fill="#262626" class="t">0.0000</text>
<text x="617.8" y="545.50" font-size="10.6" text-anchor="end" textLength="36.5" lengthAdjust="spacingAndGlyphs" fill="#262626" class="t">0.0001</text>
<text x="617.8" y="500.90" font-size="10.6" text-anchor="end" textLength="36.5" lengthAdjust="spacingAndGlyphs" fill="#262626" class="t">0.0002</text>
<text x="617.8" y="456.30" font-size="10.6" text-anchor="end" textLength="36.5" lengthAdjust="spacingAndGlyphs" fill="#262626" class="t">0.0003</text>
<text x="617.8" y="411.70" font-size="10.6" text-anchor="end" textLength="36.5" lengthAdjust="spacingAndGlyphs" fill="#262626" class="t">0.0004</text>
<text x="617.8" y="367.10" font-size="10.6" text-anchor="end" textLength="36.5" lengthAdjust="spacingAndGlyphs" fill="#262626" class="t">0.0005</text>
<text x="794.75" y="626.5" font-size="20.2" text-anchor="middle" textLength="80" lengthAdjust="spacingAndGlyphs" fill="#262626">log p(X)</text>
<text x="34.1" y="341.6" class="s" font-size="23" fill="#000" stroke="#000" stroke-width="0.2" textLength="420.2" lengthAdjust="spacingAndGlyphs">(a) Train on FashionMNIST, Test on MNIST</text>
<text x="588.9" y="340.6" class="s" font-size="23" fill="#000" stroke="#000" stroke-width="0.2" textLength="367.0" lengthAdjust="spacingAndGlyphs">(b) Train on CIFAR-10, Test on SVHN</text>
<text x="75.4" y="679.8" class="s" font-size="23" fill="#000" stroke="#000" stroke-width="0.2" textLength="339.7" lengthAdjust="spacingAndGlyphs">(c) Train on CelebA, Test on SVHN</text>
<text x="517.8" y="671.6" class="s" font-size="23" fill="#000" stroke="#000" stroke-width="0.2" textLength="219.3" lengthAdjust="spacingAndGlyphs">(d) Train on ImageNet,</text>
<text x="518.0" y="697.8" class="s" font-size="23" fill="#000" stroke="#000" stroke-width="0.2" textLength="383.3" lengthAdjust="spacingAndGlyphs">Test on CIFAR-10 / CIFAR-100 / SVHN</text>
</svg>
</body></html>
